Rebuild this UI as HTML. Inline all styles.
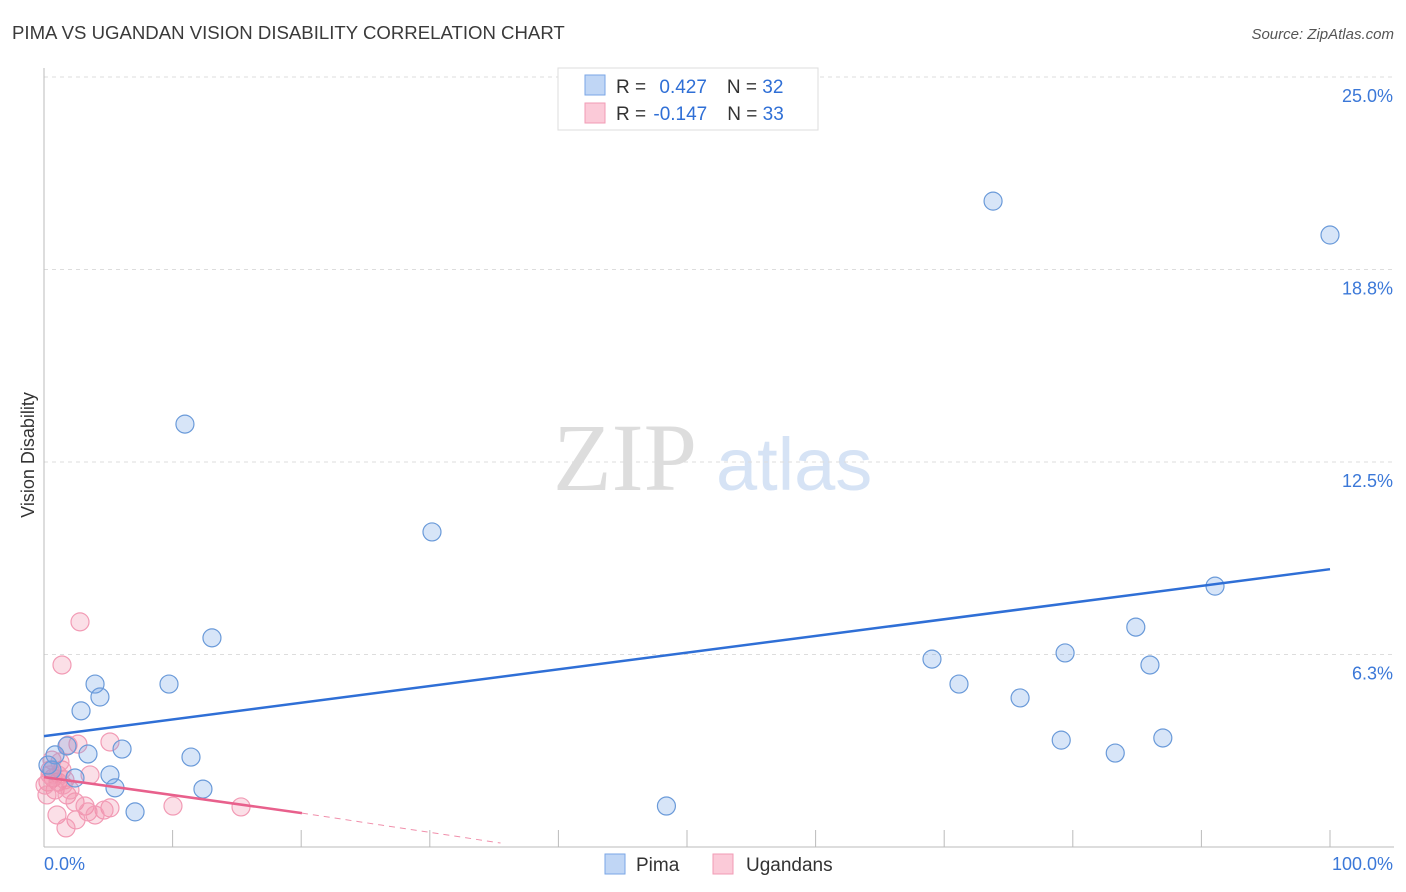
<!DOCTYPE html>
<html><head><meta charset="utf-8"><style>
body{margin:0;background:#fff;font-family:"Liberation Sans",sans-serif;}
svg{display:block}
</style></head><body>
<svg width="1406" height="892" id="chart">
<text x="12" y="39" font-size="18.6" fill="#3a3a3a">PIMA VS UGANDAN VISION DISABILITY CORRELATION CHART</text>
<text x="1394" y="39" font-size="15" fill="#555" font-style="italic" text-anchor="end">Source: ZipAtlas.com</text>
<text x="553" y="490" font-size="96" fill="#ddd" font-family="Liberation Serif,serif">ZIP</text>
<text x="716" y="490" font-size="74" fill="#d6e3f5">atlas</text>
<text transform="translate(34,455) rotate(-90)" font-size="18" fill="#333" text-anchor="middle">Vision Disability</text>
<g id="grid"></g><g id="axes"></g><g id="marks"></g>
<g>
<rect x="558" y="68" width="260" height="62" fill="#fff" stroke="#ddd"/>
<rect x="585" y="75" width="20" height="20" fill="#c0d6f5" stroke="#7aa6e6"/>
<rect x="585" y="103" width="20" height="20" fill="#fbcad8" stroke="#f29bb5"/>
<text x="616" y="93" font-size="19" fill="#333">R = <tspan fill="#2f6fd6" dx="8">0.427</tspan><tspan fill="#333" dx="20">N = </tspan><tspan fill="#2f6fd6">32</tspan></text>
<text x="616" y="120" font-size="19" fill="#333">R = <tspan fill="#2f6fd6" dx="2">-0.147</tspan><tspan fill="#333" dx="20">N = </tspan><tspan fill="#2f6fd6">33</tspan></text>
</g>
<g>
<rect x="605" y="854" width="20" height="20" fill="#c0d6f5" stroke="#7aa6e6"/>
<text x="636" y="871" font-size="19" fill="#333">Pima</text>
<rect x="713" y="854" width="20" height="20" fill="#fbcad8" stroke="#f29bb5"/>
<text x="746" y="871" font-size="19" fill="#333">Ugandans</text>
</g>
</svg>
<script>
const yTicks=[25,18.75,12.5,6.25];
const yTickLabels=["25.0%","18.8%","12.5%","6.3%"];
const xTickVals=[10,20,30,40,50,60,70,80,90,100];
const pimaX=[73.8,100,10.96,30.17,91.06,13.06,84.9,69.05,79.4,86.0,71.15,75.9,9.72,3.97,4.35,2.88,79.1,87.0,83.3,6.07,1.79,3.42,0.86,11.43,0.62,5.13,2.41,5.52,12.36,7.08,48.4,0.31];
const pimaY=[20.97,19.87,13.73,10.23,8.47,6.79,7.14,6.1,6.3,5.91,5.29,4.84,5.29,5.29,4.87,4.42,3.47,3.54,3.05,3.18,3.28,3.02,2.99,2.92,2.5,2.34,2.24,1.92,1.88,1.14,1.33,2.66];
const ugX=[2.8,1.4,5.13,2.64,1.87,3.58,0.7,0.31,1.09,0.47,1.4,0.86,0.23,1.79,2.41,5.13,3.19,4.67,3.42,10.03,15.32,1.01,2.49,1.71,0.08,0.62,1.24,1.63,2.02,3.97,0.47,1.09,1.48];
const ugY=[7.31,5.91,3.41,3.34,3.31,2.34,2.24,2.11,2.11,2.5,2.5,1.85,1.69,1.69,1.46,1.27,1.33,1.2,1.14,1.33,1.3,1.04,0.88,0.62,2.01,2.82,2.76,2.18,1.85,1.04,2.34,2.34,2.01];
const pimaTrend=[[0,3.6],[100,9.02]];
const ugTrendSolid=[[0,2.27],[20.06,1.1]];
const ugTrendDash=[[20.06,1.1],[35.5,0.13]];
const X=v=>44+v*12.86, Y=v=>847-v*30.8;
const NS="http://www.w3.org/2000/svg";
function mk(tag,attrs,parent){const e=document.createElementNS(NS,tag);for(const k in attrs)e.setAttribute(k,attrs[k]);document.getElementById(parent).appendChild(e);return e;}
yTicks.forEach((t,i)=>{
 const l=mk('line',{x1:44,x2:1394,y1:Y(t),y2:Y(t),stroke:'#ddd','stroke-dasharray':'4,4'},'grid');
 
 
 const tx=mk('text',{x:1393,y:Y(t)+25,'font-size':18,fill:'#3b78d8','text-anchor':'end'},'grid');
 tx.textContent=yTickLabels[i];
 
 
});
const ax=mk('line',{x1:44,x2:44,y1:68,y2:847,stroke:'#bbb'},'axes');


const bx=mk('line',{x1:44,x2:1394,y1:847,y2:847,stroke:'#bbb'},'axes');


xTickVals.forEach(v=>{
 const t=mk('line',{x1:X(v),x2:X(v),y1:830,y2:847,stroke:'#bbb'},'axes');
 
 
});
const xl0=mk('text',{x:44,y:870,'font-size':18,fill:'#3b78d8'},'axes');
xl0.textContent='0.0%';


const xl1=mk('text',{x:1393,y:870,'font-size':18,fill:'#3b78d8','text-anchor':'end'},'axes');
xl1.textContent='100.0%';


ugX.forEach((x,i)=>{
 const c=mk('circle',{cx:X(x),cy:Y(ugY[i]),r:9,fill:'rgba(242,140,170,0.28)',stroke:'#f29bb5','stroke-width':1.2},'marks');
 
 
});
pimaX.forEach((x,i)=>{
 const c=mk('circle',{cx:X(x),cy:Y(pimaY[i]),r:9,fill:'rgba(110,160,230,0.28)',stroke:'#6a9ad9','stroke-width':1.2},'marks');
 
 
});
const tl=mk('line',{x1:X(pimaTrend[0][0]),y1:Y(pimaTrend[0][1]),x2:X(pimaTrend[1][0]),y2:Y(pimaTrend[1][1]),stroke:'#2f6fd6','stroke-width':2.5},'marks');


const ul=mk('line',{x1:X(ugTrendSolid[0][0]),y1:Y(ugTrendSolid[0][1]),x2:X(ugTrendSolid[1][0]),y2:Y(ugTrendSolid[1][1]),stroke:'#e8608c','stroke-width':2.5},'marks');


const ud=mk('line',{x1:X(ugTrendDash[0][0]),y1:Y(ugTrendDash[0][1]),x2:X(ugTrendDash[1][0]),y2:Y(ugTrendDash[1][1]),stroke:'#f08fab','stroke-width':1,'stroke-dasharray':'6,5'},'marks');


</script>
</body></html>
